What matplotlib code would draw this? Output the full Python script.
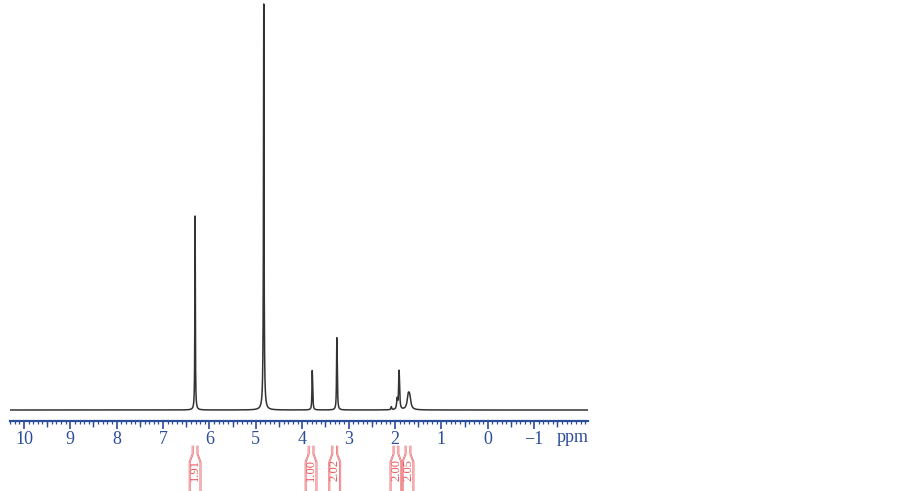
import numpy as np
import matplotlib
matplotlib.use('Agg')
import matplotlib.pyplot as plt
from matplotlib.ticker import MultipleLocator, FixedLocator

# peak list: position (ppm), height (arb.), half width (ppm)
peak_ppm = [6.31, 4.83, 4.83, 3.785, 3.775, 3.255, 3.245, 2.08, 1.955, 1.915, 1.905, 1.715, 1.685]
peak_hgt = [194, 392, 14, 34, 16, 62, 30, 3, 10, 30, 16, 12, 11]
peak_wid = [0.006, 0.007, 0.02, 0.007, 0.007, 0.007, 0.007, 0.01, 0.012, 0.01, 0.01, 0.028, 0.028]

# integrals: position (ppm) and value
integ_ppm = [6.31, 3.81, 3.30, 1.98, 1.72]
integ_txt = ['1.91', '1.00', '2.02', '2.00', '2.05']

major_ticks = [10, 9, 8, 7, 6, 5, 4, 3, 2, 1, 0, -1]
major_labels = ['10', '9', '8', '7', '6', '5', '4', '3', '2', '1', '0', '\u22121']

blue = '#2c4c9c'
red = '#e8575c'
serif = ['Liberation Serif', 'DejaVu Serif']

W, H = 903, 491
fig = plt.figure(figsize=(W / 100, H / 100), dpi=100)
x0, x1 = 10.3, -2.16
left, right, axis_y = 10, 588, 421
ax = fig.add_axes([left / W, (H - axis_y) / H, (right - left) / W, axis_y / H])

ppm = np.linspace(x0, x1, 60000)
spec = np.zeros_like(ppm)
for p, h, w in zip(peak_ppm, peak_hgt, peak_wid):
    spec += h * w**2 / ((ppm - p)**2 + w**2)
ax.plot(ppm, spec, color='#333333', lw=1.1)

ax.set_xlim(x0, x1)
ax.set_ylim(-11, 410)
for s in ['top', 'left', 'right']:
    ax.spines[s].set_visible(False)
ax.spines['bottom'].set_color(blue)
ax.spines['bottom'].set_linewidth(1.6)
ax.set_yticks([])
ax.xaxis.set_major_locator(FixedLocator(major_ticks))
ax.set_xticklabels(major_labels, fontfamily=serif, fontsize=13, color=blue)
ax.xaxis.set_minor_locator(MultipleLocator(0.1))
ax.tick_params(axis='x', which='major', direction='out', length=6, width=1.2, color=blue, pad=1)
ax.tick_params(axis='x', which='minor', direction='out', length=2.5, width=0.9, color=blue)

sec = ax.secondary_xaxis('bottom')
sec.set_xticks([t + 0.5 for t in major_ticks] + [-1.5])
sec.set_xticklabels([])
sec.tick_params(direction='out', length=4, width=1.0, color=blue)
sec.spines['bottom'].set_visible(False)

# overlay in pixel coordinates for annotation
ov = fig.add_axes([left / W, 0, (right - left) / W, 1])
ov.set_xlim(x0, x1)
ov.set_ylim(H, 0)
ov.axis('off')
ov.patch.set_alpha(0)
ov.text(-1.83, 437, 'ppm', fontfamily=serif, fontsize=13, color=blue, ha='center', va='center')

px = (x0 - x1) / (right - left)
for c, t in zip(integ_ppm, integ_txt):
    for off in (6, 4.8):
        for sgn in (-1, 1):
            xs = [c + sgn * off * px, c + sgn * off * px, c + sgn * (off - 3) * px, c + sgn * (off - 3) * px]
            ov.plot(xs, [491, 462, 454, 446], color=red, lw=0.6, alpha=0.85)
    ov.text(c, 470, t, rotation=90, fontfamily=serif, fontsize=9, color=red, ha='center', va='center')

fig.savefig('out.png', dpi=100)
